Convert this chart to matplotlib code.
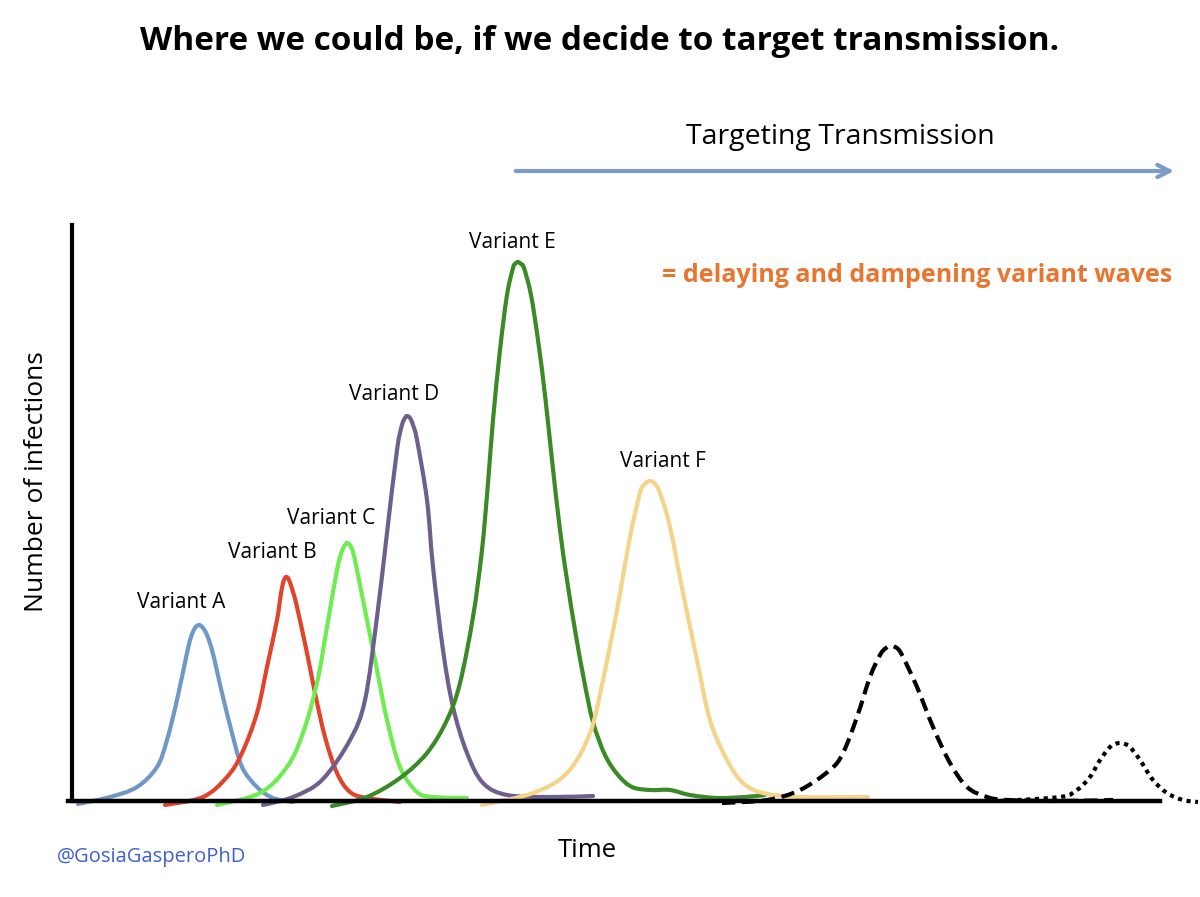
import matplotlib
matplotlib.use("Agg")
import matplotlib.pyplot as plt
from matplotlib.path import Path
from matplotlib.patches import PathPatch

plt.rcParams['font.family'] = ['Open Sans', 'DejaVu Sans']

# curves (time, number of infections), arbitrary units
a_t = [6, 38, 65, 85, 95, 105, 115, 119, 123, 127, 131, 135, 140, 145, 150, 160, 170, 185, 201, 221]
a_n = [-3, 4, 14, 34, 61, 101, 148, 164, 173, 176, 173, 166, 151, 130, 108, 68, 34, 14, 3, -1]

b_t = [93, 131, 155, 170, 185, 195, 205, 208, 211, 214, 217, 221, 225, 235, 243, 253, 265, 278, 295, 328]
b_n = [-4, 4, 24, 48, 88, 134, 181, 201, 218, 224, 221, 209, 194, 148, 108, 64, 28, 9, 3, -1]

c_t = [145, 188, 215, 231, 245, 255, 265, 270, 273, 275, 278, 281, 285, 295, 305, 315, 328, 345, 361, 395]
c_n = [-4, 8, 34, 68, 118, 174, 231, 250, 256, 258, 256, 249, 231, 181, 131, 81, 34, 9, 4, 3]

d_t = [191, 221, 250, 278, 293, 305, 315, 325, 330, 333, 335, 338, 341, 345, 355, 361, 371, 381, 395,
       411, 435, 478, 521]
d_n = [-4, 4, 21, 61, 101, 184, 268, 351, 376, 383, 385, 383, 376, 361, 301, 234, 151, 94, 48,
       18, 6, 4, 5]

e_t = [260, 295, 328, 355, 375, 388, 401, 410, 416, 421, 428, 435, 441, 443, 446, 449, 452, 459, 466,
       473, 480, 488, 495, 503, 512, 521, 533, 546, 560, 578, 598, 618, 645, 673, 693]
e_n = [-5, 4, 23, 48, 81, 118, 184, 251, 318, 381, 451, 506, 533, 537, 539, 537, 533, 506, 461,
       406, 341, 271, 221, 171, 121, 79, 46, 26, 14, 11, 11, 6, 3, 4, 6]

f_t = [410, 461, 495, 518, 531, 545, 558, 568, 573, 578, 583, 588, 598, 611, 625, 638, 655, 671, 691, 728, 796]
f_n = [-4, 8, 28, 68, 121, 191, 264, 308, 317, 320, 317, 308, 274, 208, 141, 81, 41, 18, 8, 4, 4]

g_t = [650, 695, 728, 758, 771, 785, 798, 808, 814, 820, 826, 831, 845, 861, 878, 895, 915, 935, 988, 1041]
g_n = [-2, 1, 11, 31, 48, 84, 124, 146, 153, 155, 152, 144, 114, 74, 38, 14, 4, 1, 0, 1]

h_t = [928, 988, 1005, 1018, 1028, 1038, 1043, 1048, 1053, 1058, 1068, 1081, 1095, 1111, 1126]
h_n = [0, 4, 11, 24, 41, 54, 57, 58, 57, 54, 41, 21, 8, 1, -1]

labels = ['Variant A', 'Variant B', 'Variant C', 'Variant D', 'Variant E', 'Variant F']
label_t = [109, 200, 259, 322, 440, 591]
label_n = [198, 248, 283, 406, 559, 340]

colors = ['#6f97c8', '#e2442b', '#6ded4f', '#6e5f8f', '#3a8a26', '#f5d48a']


def smooth_path(t, n):
    # bezier path through the read points (catmull-rom style handles)
    pts = list(zip(t, n))
    verts = [pts[0]]
    codes = [Path.MOVETO]
    for i in range(len(pts) - 1):
        p0 = pts[max(i - 1, 0)]
        p1 = pts[i]
        p2 = pts[i + 1]
        p3 = pts[min(i + 2, len(pts) - 1)]
        c1 = (p1[0] + (p2[0] - p0[0]) / 6, p1[1] + (p2[1] - p0[1]) / 6)
        c2 = (p2[0] - (p3[0] - p1[0]) / 6, p2[1] - (p3[1] - p1[1]) / 6)
        verts += [c1, c2, p2]
        codes += [Path.CURVE4] * 3
    return Path(verts, codes)


W, H = 1200, 897
fig = plt.figure(figsize=(W / 100, H / 100), dpi=100)
fig.patch.set_facecolor('white')
ax = fig.add_axes([72 / W, (H - 801) / H, 1088 / W, 576 / H])
ax.set_xlim(0, 1088)
ax.set_ylim(0, 576)

series = [(a_t, a_n), (b_t, b_n), (c_t, c_n), (d_t, d_n), (e_t, e_n), (f_t, f_n)]
for (t, n), col in zip(series, colors):
    ax.add_patch(PathPatch(smooth_path(t, n), fill=False, edgecolor=col, lw=3,
                           capstyle='round', joinstyle='round', clip_on=False))

ax.add_patch(PathPatch(smooth_path(g_t, g_n), fill=False, edgecolor='black', lw=3,
                       linestyle=(0, (3.2, 1.6)), clip_on=False))
ax.add_patch(PathPatch(smooth_path(h_t, h_n), fill=False, edgecolor='black', lw=3,
                       linestyle=(0, (1, 1.1)), clip_on=False))

for lab, t, n in zip(labels, label_t, label_n):
    ax.text(t, n, lab, ha='center', va='center', fontsize=15)

ax.text(1100, 526, '= delaying and dampening variant waves', ha='right', va='center',
        fontsize=18, fontweight='bold', color='#e87530')

for s in ['top', 'right']:
    ax.spines[s].set_visible(False)
ax.spines['left'].set_linewidth(3)
ax.spines['bottom'].set_linewidth(3.2)
ax.spines['bottom'].set_bounds(-4, 1088)
ax.set_xticks([])
ax.set_yticks([])

fig.text(600 / W, 1 - 42 / H, 'Where we could be, if we decide to target transmission.',
         ha='center', va='center', fontsize=24, fontweight='bold')
fig.text(840 / W, 1 - 137 / H, 'Targeting Transmission', ha='center', va='center', fontsize=20.5)
fig.text(37 / W, 1 - 482 / H, 'Number of infections', ha='center', va='center',
         rotation=90, fontsize=19)
fig.text(587 / W, 1 - 850 / H, 'Time', ha='center', va='center', fontsize=18.5)
fig.text(57 / W, 1 - 857 / H, '@GosiaGasperoPhD', ha='left', va='center',
         fontsize=14.5, color='#3d5fd0')

# arrow across the top
ax.annotate('', xy=(1177 / W, 1 - 171 / H), xytext=(513 / W, 1 - 171 / H),
            xycoords='figure fraction', textcoords='figure fraction',
            arrowprops=dict(arrowstyle='->', color='#7b9cc8', lw=3, mutation_scale=22))

fig.savefig('out.png', dpi=100, facecolor='white')
